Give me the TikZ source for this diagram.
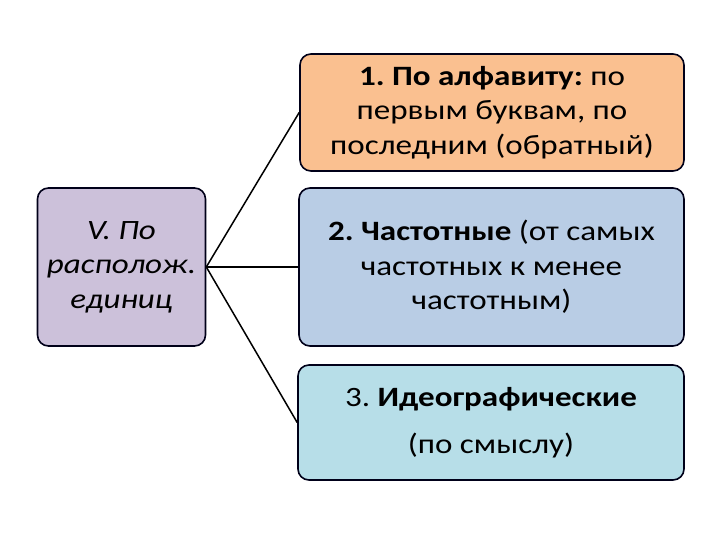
\documentclass[tikz,border=0pt]{standalone}
\usepackage{fontspec}
\setmainfont{Carlito}[FakeStretch=1.18]
\frenchspacing
\begin{document}
\begin{tikzpicture}[x=1pt,y=-1pt,
  box/.style={draw=black!90!blue, line width=1.6pt, rounded corners=11pt, align=center,
    inner sep=0pt, font=\fontsize{28}{34.5}\selectfont},
  link/.style={line width=1.5pt, draw=black}]
\useasboundingbox (0,0) rectangle (720,540);
\fill[white] (0,0) rectangle (720,540);
\node[box, fill={rgb,255:red,204;green,193;blue,218}, minimum width=168pt, minimum height=158pt,
  font=\fontsize{28}{34.5}\selectfont\itshape] (L) at (121.5,267) {\raisebox{-2pt}{\parbox{160pt}{\centering V. По\\располож.\\единиц}}};
\node[box, fill={rgb,255:red,250;green,192;blue,144}, minimum width=384pt, minimum height=117pt]
  (A) at (492,112.5) {\textbf{1. По алфавиту:} по\\первым буквам, по\\последним (обратный)};
\node[box, fill={rgb,255:red,185;green,205;blue,229}, minimum width=385pt, minimum height=158pt]
  (B) at (491.5,267) {\textbf{2. Частотные} (от самых\\частотных к менее\\частотным)};
\node[box, fill={rgb,255:red,183;green,222;blue,232}, minimum width=386pt, minimum height=115pt,
  font=\fontsize{28}{47}\selectfont]
  (C) at (491,422.5) {\raisebox{-3pt}{\parbox{380pt}{\centering 3. \textbf{Идеографические}\\(по смыслу)}}};
\draw[link] (L.east) -- (A.west);
\draw[link] (L.east) -- (B.west);
\draw[link] (L.east) -- (C.west);
\end{tikzpicture}
\end{document}
